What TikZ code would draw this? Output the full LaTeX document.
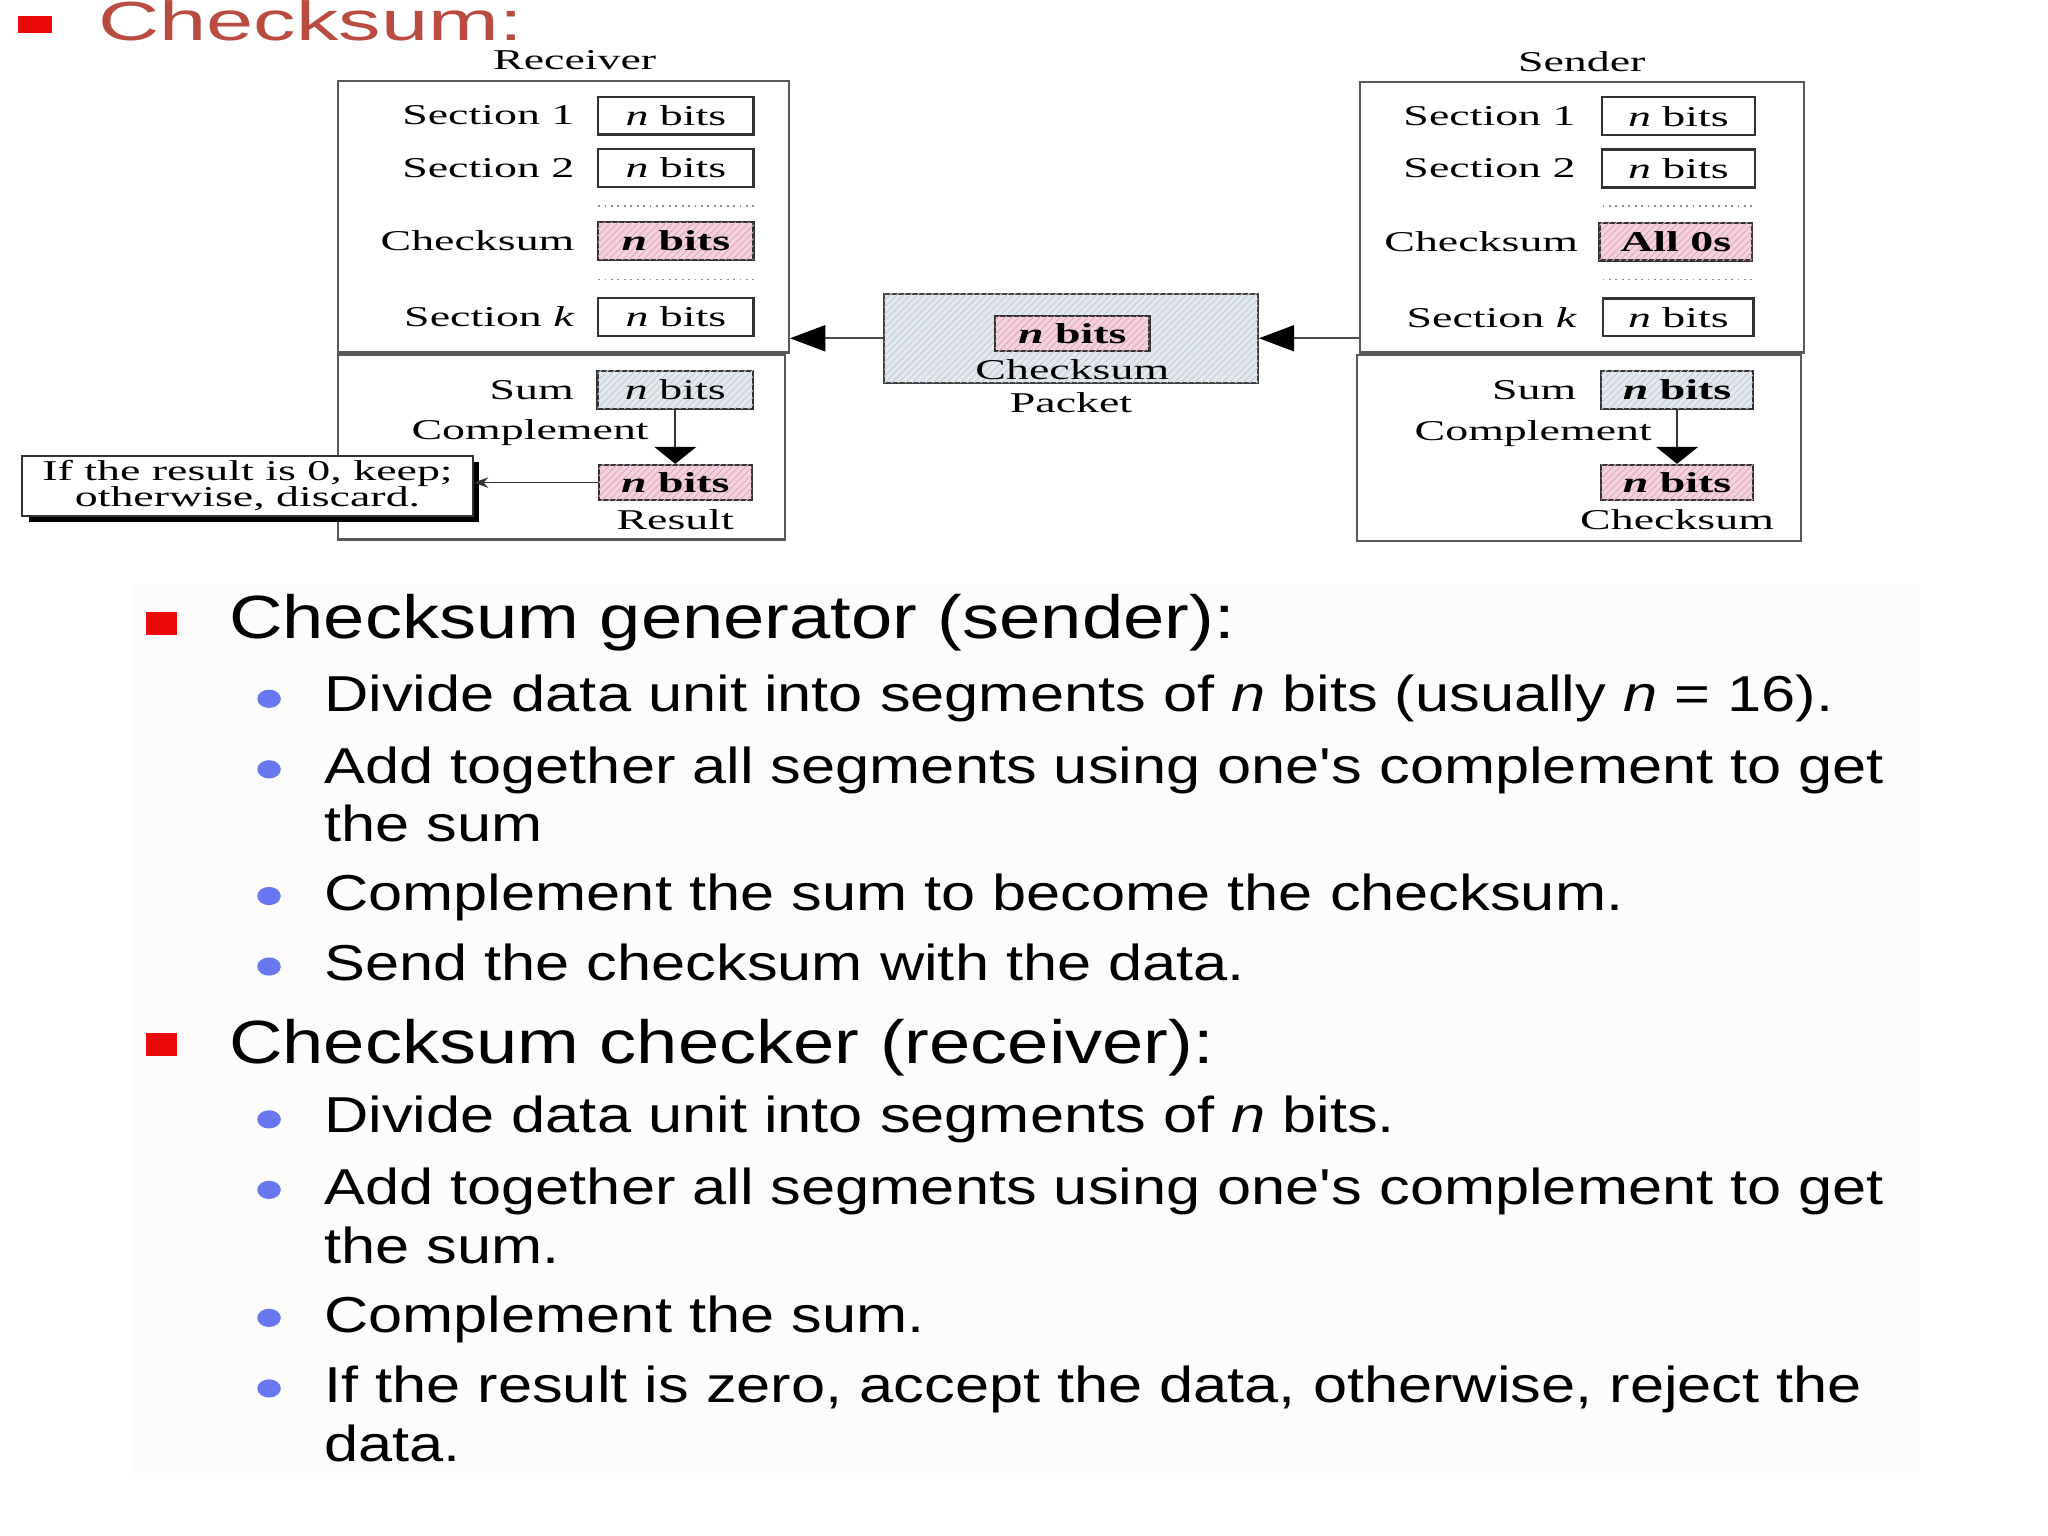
\documentclass[tikz,border=0pt]{standalone}
\usepackage{fontspec}
\newfontfamily\figfont[FakeStretch=1.6]{Liberation Serif}
\newfontfamily\slidefont[FakeStretch=1.215]{Liberation Sans}
\newfontfamily\titlefont[FakeStretch=1.54]{Liberation Sans}
\usetikzlibrary{
  arrows.meta, positioning,
  shapes.geometric, patterns, shadows
}
\definecolor{titlered}{RGB}{185,75,65}
\definecolor{bulletred}{RGB}{235,10,10}
\definecolor{bulletblue}{RGB}{105,120,240}
\definecolor{boxpink}{RGB}{245,210,222}
\definecolor{hatchpink}{RGB}{222,170,192}
\definecolor{boxblue}{RGB}{228,233,239}
\definecolor{hatchblue}{RGB}{196,206,216}
\definecolor{panelgray}{RGB}{252,252,252}
\newcommand{\figsize}{\figfont\fontsize{12.5}{14}\selectfont}
\tikzset{
  frame/.style={rectangle,draw=black!65,line width=1pt,inner sep=0pt},
  bitbox/.style={rectangle,draw=black!80,line width=1pt,fill=white,minimum width=2.38cm,minimum height=0.58cm,inner sep=0pt,font=\figsize},
  pinkbox/.style={bitbox,fill=boxpink,postaction={pattern=north east lines,pattern color=hatchpink}},
  bluebox/.style={bitbox,fill=boxblue,postaction={pattern=north east lines,pattern color=hatchblue}},
  pktbox/.style={frame,draw=black!75,fill=boxblue,postaction={pattern=north east lines,pattern color=hatchblue}},
  lbl/.style={inner sep=0pt,font=\figsize},
  decbox/.style={rectangle,draw=black!80,line width=1pt,fill=white,align=center,inner sep=0pt,
    font=\figfont\fontsize{12.5}{11.5}\selectfont,
    drop shadow={shadow xshift=0.1cm,shadow yshift=-0.1cm,fill=black,opacity=1}},
  dotline/.style={dotted,draw=black!45,line width=0.8pt},
  bigarr/.style={-{Triangle[length=0.54cm,width=0.4cm,color=black]},draw=black!70,line width=0.7pt},
  cmparr/.style={-{Triangle[length=0.26cm,width=0.64cm,color=black]},draw=black!80,line width=0.8pt},
  smallarr/.style={-{Stealth[length=0.22cm,width=0.16cm]},draw=black!80,line width=0.6pt},
  headtxt/.style={anchor=base west,inner sep=0pt,font=\slidefont\fontsize{26.6}{32}\selectfont},
  itemtxt/.style={anchor=base west,inner sep=0pt,font=\slidefont\fontsize{22}{26}\selectfont},
  redsq/.style={rectangle,fill=bulletred,inner sep=0pt,minimum width=0.48cm,minimum height=0.36cm},
  bluedot/.style={ellipse,fill=bulletblue,inner sep=0pt,minimum width=0.36cm,minimum height=0.28cm}
}

\begin{document}
\begin{tikzpicture}[x=0.02cm,y=-0.02cm]
  \useasboundingbox (0,0) rectangle (1568,1176);
  \fill[white] (0,0) rectangle (1568,1176);
  \fill[panelgray] (100,448) rectangle (1470,1128);

  % title
  \node[redsq,minimum width=0.52cm,minimum height=0.26cm] (tsq) at (27,18.5) {};
  \node[anchor=base west,inner sep=0pt,text=titlered,font=\titlefont\fontsize{24}{28}\selectfont] (title) at (75,31) {Checksum:};

  % receiver
  \node[lbl] (rxname) at (440,46) {Receiver};
  \node[frame,minimum width=6.9cm,minimum height=4.16cm] (rxtop) at (431.5,166) {};
  \node[frame,minimum width=6.84cm,minimum height=2.82cm] (rxbot) at (430,342.5) {};
  \node[bitbox] (rxs1) at (517.5,88.5) {\textit{n} bits};
  \node[lbl,left=0.34cm of rxs1] (rxs1l) {Section 1};
  \node[bitbox] (rxs2) at (517.5,128.5) {\textit{n} bits};
  \node[lbl,left=0.34cm of rxs2] (rxs2l) {Section 2};
  \draw[dotline] (458,158) -- (577,158);
  \node[pinkbox] (rxcs) at (517.5,184.5) {\textbf{\textit{n} bits}};
  \node[lbl,left=0.34cm of rxcs] (rxcsl) {Checksum};
  \draw[dotline] (458,214) -- (577,214);
  \node[bitbox] (rxsk) at (517.5,242.5) {\textit{n} bits};
  \node[lbl,left=0.34cm of rxsk] (rxskl) {Section \textit{k}};
  \node[bluebox] (rxsum) at (517,298.5) {\textit{n} bits};
  \node[lbl,left=0.34cm of rxsum] (rxsuml) {Sum};
  \node[pinkbox,minimum width=2.34cm,minimum height=0.54cm] (rxres) at (517,369.5) {\textbf{\textit{n} bits}};
  \node[lbl,below=0.12cm of rxres] (rxresl) {Result};
  \node[lbl,anchor=east] (rxcmpl) at (497,331) {Complement};
  \draw[cmparr] (rxsum) -- (rxres);
  \node[decbox,minimum width=6.9cm,minimum height=0.92cm] (rxdec) at (189.5,372) {If the result is 0, keep;\\otherwise, discard.};
  \draw[smallarr] (rxres.west) -- (rxres.west -| rxdec.east);

  % packet
  \node[pktbox,minimum width=5.72cm,minimum height=1.36cm] (pkt) at (820,259) {};
  \node[pinkbox,minimum width=2.36cm,minimum height=0.54cm] (pktbits) at (821,255.5) {\textbf{\textit{n} bits}};
  \node[lbl,below=0.1cm of pktbits] (pktcs) {Checksum};
  \node[lbl,below=0.12cm of pkt] (pktname) {Packet};

  % sender
  \node[lbl] (sxname) at (1211,47) {Sender};
  \node[frame,minimum width=6.8cm,minimum height=4.14cm] (sxtop) at (1211,166.5) {};
  \node[frame,minimum width=6.8cm,minimum height=2.84cm] (sxbot) at (1209,343) {};
  \node[bitbox,minimum width=2.34cm] (sxs1) at (1285,89) {\textit{n} bits};
  \node[lbl,left=0.38cm of sxs1] (sxs1l) {Section 1};
  \node[bitbox,minimum width=2.34cm] (sxs2) at (1285,129) {\textit{n} bits};
  \node[lbl,left=0.38cm of sxs2] (sxs2l) {Section 2};
  \draw[dotline] (1227,158) -- (1343,158);
  \node[pinkbox,minimum width=2.34cm] (sxcs) at (1283,185) {\textbf{All 0s}};
  \node[lbl,left=0.3cm of sxcs] (sxcsl) {Checksum};
  \draw[dotline] (1227,214) -- (1343,214);
  \node[bitbox,minimum width=2.3cm] (sxsk) at (1285,243) {\textit{n} bits};
  \node[lbl,left=0.38cm of sxsk] (sxskl) {Section \textit{k}};
  \node[bluebox,minimum width=2.32cm] (sxsum) at (1284,298.5) {\textbf{\textit{n} bits}};
  \node[lbl,left=0.36cm of sxsum] (sxsuml) {Sum};
  \node[pinkbox,minimum width=2.32cm,minimum height=0.54cm] (sxres) at (1284,369.5) {\textbf{\textit{n} bits}};
  \node[lbl,below=0.12cm of sxres] (sxresl) {Checksum};
  \node[lbl,anchor=east] (sxcmpl) at (1265,332) {Complement};
  \draw[cmparr] (sxsum) -- (sxres);

  \draw[bigarr] (sxtop.west |- pkt.east) -- (pkt.east);
  \draw[bigarr] (pkt.west) -- (pkt.west -| rxtop.east);

  % generator
  \node[redsq] (h1sq) at (123.5,477.5) {};
  \node[headtxt] (h1) at (175,489) {Checksum generator (sender):};
  \node[bluedot] (g1dot) at (206,535) {};
  \node[itemtxt] (g1) at (248,545) {Divide data unit into segments of \textit{n} bits (usually \textit{n} = 16).};
  \node[bluedot] (g2dot) at (206,589) {};
  \node[itemtxt] (g2) at (248,600) {Add together all segments using one's complement to get};
  \node[itemtxt] (g2b) at (248,644) {the sum};
  \node[bluedot] (g3dot) at (206,686) {};
  \node[itemtxt] (g3) at (248,697) {Complement the sum to become the checksum.};
  \node[bluedot] (g4dot) at (206,740) {};
  \node[itemtxt] (g4) at (248,751) {Send the checksum with the data.};

  % checker
  \node[redsq] (h2sq) at (123.5,799.5) {};
  \node[headtxt] (h2) at (175,814) {Checksum checker (receiver):};
  \node[bluedot] (c1dot) at (206,857) {};
  \node[itemtxt] (c1) at (248,867) {Divide data unit into segments of \textit{n} bits.};
  \node[bluedot] (c2dot) at (206,911) {};
  \node[itemtxt] (c2) at (248,922) {Add together all segments using one's complement to get};
  \node[itemtxt] (c2b) at (248,967) {the sum.};
  \node[bluedot] (c3dot) at (206,1009) {};
  \node[itemtxt] (c3) at (248,1020) {Complement the sum.};
  \node[bluedot] (c4dot) at (206,1063) {};
  \node[itemtxt] (c4) at (248,1074) {If the result is zero, accept the data, otherwise, reject the};
  \node[itemtxt] (c4b) at (248,1119) {data.};
\end{tikzpicture}
\end{document}
